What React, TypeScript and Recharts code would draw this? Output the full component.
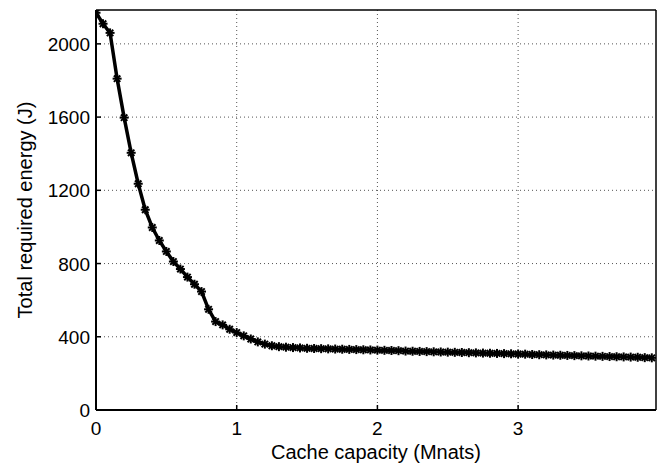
import { CartesianGrid, Line, LineChart, ReferenceLine, XAxis, YAxis } from "recharts";

const capacity = [
  0, 0.05, 0.1, 0.15, 0.2, 0.25, 0.3, 0.35, 0.4, 0.45, 0.5, 0.55, 0.6, 0.65, 0.7, 0.75, 0.8, 0.85, 0.9, 0.95,
  1.0, 1.05, 1.1, 1.15, 1.2, 1.25, 1.3, 1.35, 1.4, 1.45, 1.5, 1.55, 1.6, 1.65, 1.7, 1.75, 1.8, 1.85, 1.9, 1.95,
  2.0, 2.05, 2.1, 2.15, 2.2, 2.25, 2.3, 2.35, 2.4, 2.45, 2.5, 2.55, 2.6, 2.65, 2.7, 2.75, 2.8, 2.85, 2.9, 2.95,
  3.0, 3.05, 3.1, 3.15, 3.2, 3.25, 3.3, 3.35, 3.4, 3.45, 3.5, 3.55, 3.6, 3.65, 3.7, 3.75, 3.8, 3.85, 3.9, 3.95,
];

const energy = [
  2170, 2110, 2060, 1810, 1597, 1405, 1236, 1094, 997, 926, 866, 811, 770, 726, 687, 647, 550, 483, 465, 441,
  423, 405, 388, 372, 360, 351, 346, 343, 341, 339, 337, 336, 335, 334, 333, 332, 331, 330, 329, 328,
  327, 326, 325, 324, 322, 321, 320, 319, 318, 317, 316, 315, 314, 313, 312, 311, 310, 309, 308, 307,
  306, 305, 303, 302, 301, 300, 299, 298, 297, 296, 295, 294, 293, 292, 291, 290, 289, 288, 286, 285,
];

const xTicks = [0, 1, 2, 3];
const yTicks = [0, 400, 800, 1200, 1600, 2000];
const xMax = 3.98;
const yMax = 2185;

const data = capacity.map((c, i) => ({ c, e: energy[i] }));

const font = "'Liberation Sans', Arial, sans-serif";

// matlab-style '*' marker
function Star(props: any) {
  const { cx, cy } = props;
  if (cx == null || cy == null) return null;
  const r = 4.5;
  const d = 3.2;
  return (
    <g stroke="#000" strokeWidth={2}>
      <line x1={cx - r} y1={cy} x2={cx + r} y2={cy} />
      <line x1={cx} y1={cy - r} x2={cx} y2={cy + r} />
      <line x1={cx - d} y1={cy - d} x2={cx + d} y2={cy + d} />
      <line x1={cx - d} y1={cy + d} x2={cx + d} y2={cy - d} />
    </g>
  );
}

function XTick(props: any) {
  const { x, y, payload } = props;
  return (
    <g>
      <line x1={x} y1={y} x2={x} y2={y - 5} stroke="#000" strokeWidth={1.5} />
      <text x={x} y={y + 25} textAnchor="middle" fontSize={19} fontFamily={font} fill="#000">
        {payload.value}
      </text>
    </g>
  );
}

function YTick(props: any) {
  const { x, y, payload } = props;
  return (
    <g>
      <line x1={x} y1={y} x2={x + 5} y2={y} stroke="#000" strokeWidth={1.5} />
      <text x={x - 6} y={y + 7} textAnchor="end" fontSize={19} fontFamily={font} fill="#000">
        {payload.value}
      </text>
    </g>
  );
}

export default function App() {
  return (
    <div style={{ position: "absolute", left: 0, top: 0, background: "#fff" }}>
      <LineChart width={658} height={468} data={data} margin={{ top: 10, right: 2, bottom: 0, left: 0 }}>
        <CartesianGrid stroke="#555" strokeDasharray="1 3" verticalValues={xTicks.slice(1)} horizontalValues={yTicks.slice(1)} />
        <XAxis
          dataKey="c"
          type="number"
          domain={[0, xMax]}
          ticks={xTicks}
          allowDataOverflow
          height={58}
          tickSize={0}
          tickMargin={0}
          tick={<XTick />}
          stroke="#000"
          strokeWidth={2}
          label={{ value: "Cache capacity (Mnats)", position: "insideBottom", offset: 9, fontSize: 20, fontFamily: font, fill: "#000" }}
        />
        <YAxis
          dataKey="e"
          type="number"
          domain={[0, yMax]}
          ticks={yTicks}
          allowDataOverflow
          width={96}
          tickSize={0}
          tickMargin={0}
          tick={<YTick />}
          stroke="#000"
          strokeWidth={2}
          label={{
            value: "Total required energy (J)",
            angle: -90,
            position: "insideLeft",
            offset: 0,
            dx: 25,
            style: { textAnchor: "middle" },
            fontSize: 20,
            fontFamily: font,
            fill: "#000",
          }}
        />
        <ReferenceLine y={yMax} stroke="#000" strokeWidth={1.5} />
        <ReferenceLine x={xMax} stroke="#000" strokeWidth={1.5} />
        <Line
          type="linear"
          dataKey="e"
          stroke="#000"
          strokeWidth={3.5}
          dot={<Star />}
          isAnimationActive={false}
        />
      </LineChart>
    </div>
  );
}
